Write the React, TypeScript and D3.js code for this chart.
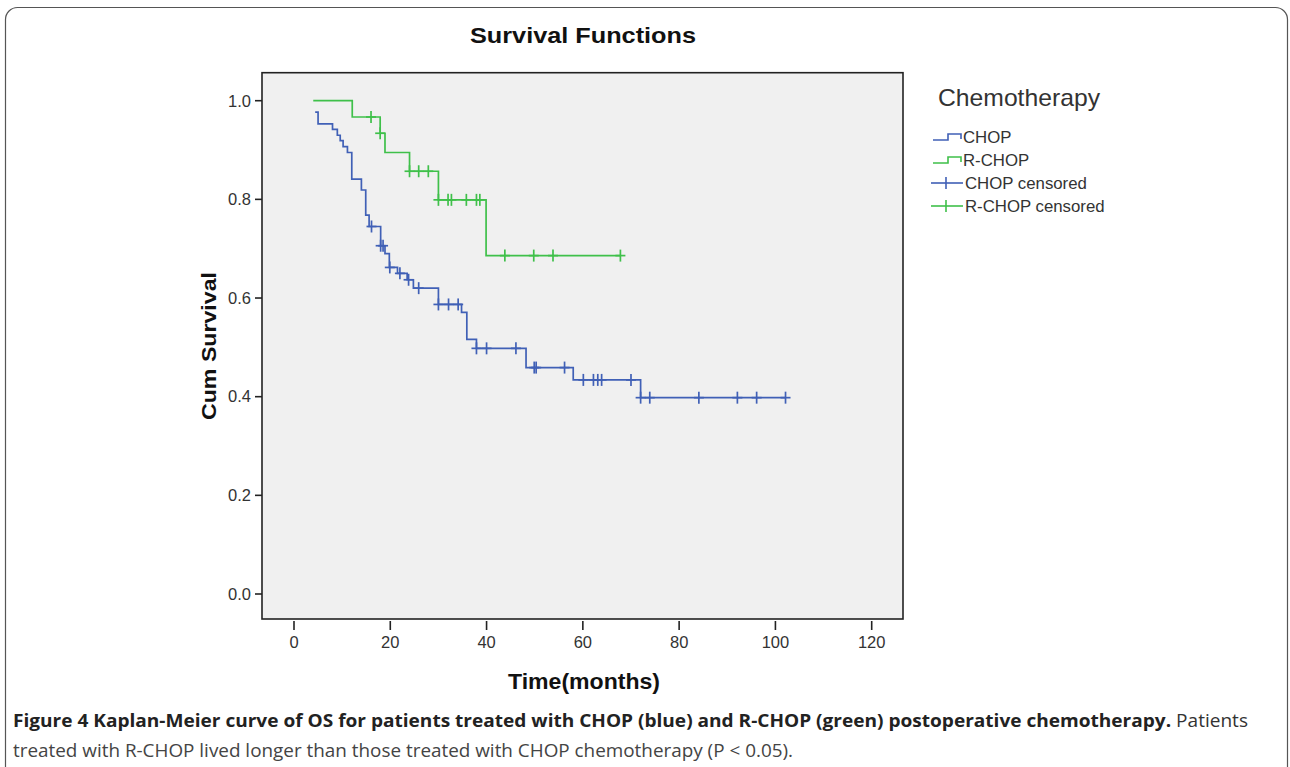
import React from "react";
import * as d3 from "d3";

// ---- Data ----
const xTicks = [0, 20, 40, 60, 80, 100, 120];
const yTicks = [0.0, 0.2, 0.4, 0.6, 0.8, 1.0];

// CHOP (blue): step change points (time in months, cumulative survival after the step)
const chopTimes = [4.4, 5, 8, 9, 9.6, 10.2, 11.1, 12, 14, 14.9, 15.6, 18, 18.9, 19.8, 21.5, 23.5, 24.8, 30, 34.8, 35.9, 37.9, 48.2, 58, 72];
const chopSurv = [0.977, 0.953, 0.942, 0.930, 0.919, 0.907, 0.895, 0.841, 0.819, 0.768, 0.745, 0.706, 0.690, 0.662, 0.650, 0.637, 0.620, 0.587, 0.571, 0.516, 0.498, 0.459, 0.434, 0.398];
const chopCensored = [16.1, 18, 18.5, 19.9, 22, 23.8, 25.9, 30, 32.1, 34.1, 37.9, 40, 46.1, 49.9, 50.3, 56.2, 60.1, 62.2, 63.1, 63.9, 70, 72, 73.9, 84.1, 92.1, 96.1, 102.1];
const chopEnd = 102.1;

// R-CHOP (green)
const rchopTimes = [4, 12.1, 17.9, 18.9, 24, 30, 39.9];
const rchopSurv = [1.0, 0.967, 0.934, 0.895, 0.857, 0.799, 0.686];
const rchopCensored = [16, 17.9, 24, 25.9, 27.9, 30, 32, 32.7, 35.8, 37.9, 38.6, 43.8, 49.8, 53.8, 67.8];
const rchopEnd = 67.8;

const legendLabels = ["CHOP", "R-CHOP", "CHOP censored", "R-CHOP censored"];

const BLUE = "#4060b6";
const GREEN = "#3fc04a";
const SANS = "'Liberation Sans', Arial, sans-serif";

function survAt(times: number[], surv: number[], t: number) {
  let s = surv[0];
  for (let i = 0; i < times.length; i++) {
    if (times[i] <= t + 1e-9) s = surv[i];
  }
  return s;
}

export default function App() {
  const x = d3.scaleLinear().domain([0, 120]).range([294, 871.7]);
  const y = d3.scaleLinear().domain([0, 1]).range([594, 100.7]);
  const plot = { left: 262, right: 903, top: 72.7, bottom: 619 };

  const line = d3
    .line<[number, number]>()
    .x((d) => x(d[0]))
    .y((d) => y(d[1]))
    .curve(d3.curveStepAfter);

  const series = [
    { times: chopTimes, surv: chopSurv, cens: chopCensored, end: chopEnd, color: BLUE },
    { times: rchopTimes, surv: rchopSurv, cens: rchopCensored, end: rchopEnd, color: GREEN },
  ];

  const legendRows = [137, 160, 183, 206];

  return (
    <div style={{ position: "absolute", left: 0, top: 0 }}>
      <svg width={1290} height={767} viewBox="0 0 1290 767" style={{ display: "block", background: "#fff" }}>
        {/* outer frame */}
        <rect x={5.5} y={7.5} width={1282} height={780} rx={12} fill="none" stroke="#555" strokeWidth={1.2} />

        {/* title */}
        <text x={583} y={43} textAnchor="middle" fontFamily={SANS} fontWeight="bold" fontSize={22.5} fill="#111" textLength={226} lengthAdjust="spacingAndGlyphs">
          Survival Functions
        </text>

        {/* plot area */}
        <rect x={plot.left} y={plot.top} width={plot.right - plot.left} height={plot.bottom - plot.top} fill="#f0f0f0" stroke="#222" strokeWidth={1.6} />

        {/* y axis ticks */}
        {yTicks.map((v) => (
          <g key={"y" + v}>
            <line x1={255} x2={plot.left} y1={y(v)} y2={y(v)} stroke="#222" strokeWidth={1.6} />
            <text x={251} y={y(v) + 5.8} textAnchor="end" fontFamily={SANS} fontSize={16.5} fill="#333">
              {v.toFixed(1)}
            </text>
          </g>
        ))}

        {/* x axis ticks */}
        {xTicks.map((v) => (
          <g key={"x" + v}>
            <line x1={x(v)} x2={x(v)} y1={621} y2={630} stroke="#222" strokeWidth={1.6} />
            <text x={x(v)} y={647.5} textAnchor="middle" fontFamily={SANS} fontSize={16.5} fill="#333">
              {v}
            </text>
          </g>
        ))}

        {/* axis titles */}
        <text x={584} y={689} textAnchor="middle" fontFamily={SANS} fontWeight="bold" fontSize={21.5} fill="#111" textLength={152} lengthAdjust="spacingAndGlyphs">
          Time(months)
        </text>
        <text transform="translate(215.5,346) rotate(-90)" textAnchor="middle" fontFamily={SANS} fontWeight="bold" fontSize={21} fill="#111" textLength={148} lengthAdjust="spacingAndGlyphs">
          Cum Survival
        </text>

        {/* curves */}
        {series.map((s, k) => {
          const pts: [number, number][] = s.times.map((t, i) => [t, s.surv[i]] as [number, number]);
          pts.push([s.end, s.surv[s.surv.length - 1]]);
          return (
            <g key={"s" + k}>
              <path d={line(pts) || ""} fill="none" stroke={s.color} strokeWidth={1.7} />
              {s.cens.map((t, i) => {
                const cx = x(t);
                const cy = y(survAt(s.times, s.surv, t));
                return (
                  <g key={i} stroke={s.color} strokeWidth={1.7}>
                    <line x1={cx} x2={cx} y1={cy - 6} y2={cy + 6} />
                    <line x1={cx - 5} x2={cx + 5} y1={cy} y2={cy} />
                  </g>
                );
              })}
            </g>
          );
        })}

        {/* legend */}
        <text x={938} y={106} fontFamily={SANS} fontSize={24} fill="#333" textLength={162} lengthAdjust="spacingAndGlyphs">
          Chemotherapy
        </text>
        {legendLabels.map((lab, i) => {
          const c = legendRows[i];
          const color = i % 2 === 0 ? BLUE : GREEN;
          const isStep = i < 2;
          return (
            <g key={lab}>
              {isStep ? (
                <path d={`M933,${c + 3} H948 V${c - 3} H961 V${c + 2}`} fill="none" stroke={color} strokeWidth={1.6} />
              ) : (
                <g stroke={color} strokeWidth={1.6}>
                  <line x1={931} x2={963} y1={c} y2={c} />
                  <line x1={946} x2={946} y1={c - 6} y2={c + 6} />
                </g>
              )}
              <text x={isStep ? 963 : 965} y={c + 6} fontFamily={SANS} fontSize={16.8} fill="#333">
                {lab}
              </text>
            </g>
          );
        })}

        {/* caption */}
        <text x={13} y={727} fontFamily="'Open Sans', sans-serif" fontSize={18} fill="#333" textLength={1235} lengthAdjust="spacingAndGlyphs">
          <tspan fontWeight="bold" fill="#222">
            Figure 4 Kaplan-Meier curve of OS for patients treated with CHOP (blue) and R-CHOP (green) postoperative chemotherapy.
          </tspan>
          <tspan> Patients</tspan>
        </text>
        <text x={13} y={757} fontFamily="'Open Sans', sans-serif" fontSize={18} fill="#444" textLength={780} lengthAdjust="spacingAndGlyphs">
          treated with R-CHOP lived longer than those treated with CHOP chemotherapy (P &lt; 0.05).
        </text>
      </svg>
    </div>
  );
}
